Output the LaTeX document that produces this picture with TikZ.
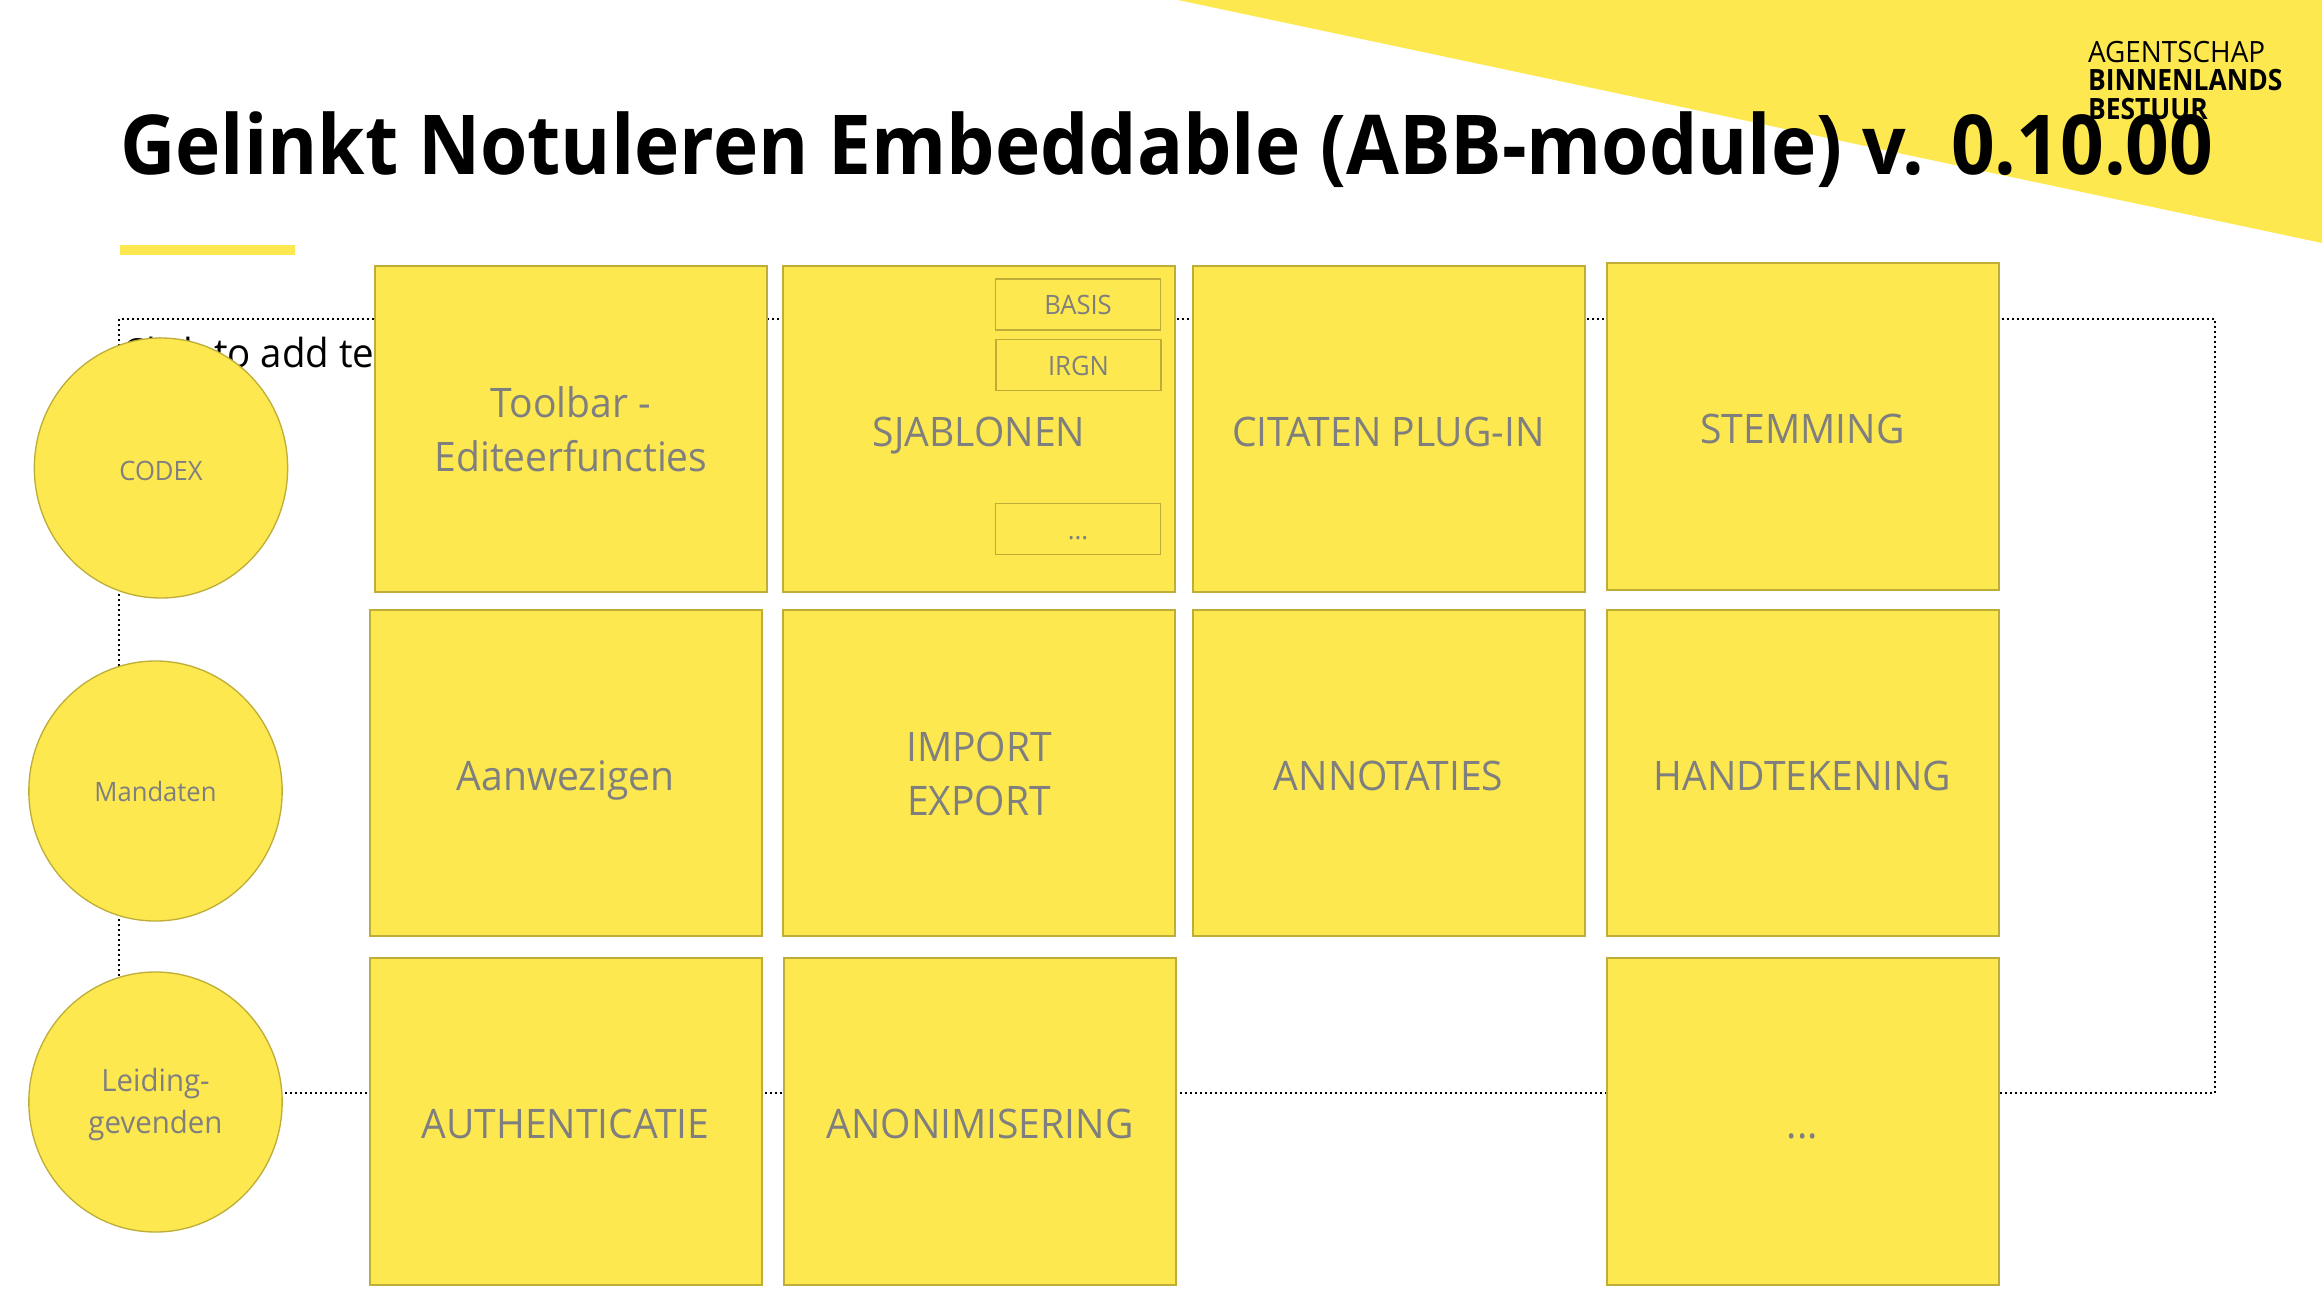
\documentclass[tikz,border=0pt]{standalone}
\usepackage{fontspec}
\setmainfont[FakeStretch=0.96]{Open Sans}
\newfontfamily\titlefont[FakeStretch=0.926]{Open Sans}
\newfontfamily\logofont[FakeStretch=0.95,BoldFeatures={FakeStretch=0.9}]{Open Sans}
\usetikzlibrary{shapes.geometric}
\definecolor{abbyellow}{HTML}{FDE84F}
\definecolor{abbline}{HTML}{BEAE38}
\definecolor{abbgrey}{HTML}{7F7F7F}

\begin{document}
\begin{tikzpicture}[x=.75pt,y=-.75pt,
  tile/.style={rectangle,draw=abbline,fill=abbyellow,line width=1.5pt,outer sep=0pt,minimum width=294pt,minimum height=245pt,text=abbgrey,align=center,font=\fontsize{30.5}{40.5}\selectfont,text height=26pt,text depth=0pt},
  twoline/.style={text height=64pt},
  tag/.style={rectangle,draw=abbline,line width=1.2pt,outer sep=0pt,minimum width=124pt,minimum height=38pt,text=abbgrey,font=\fontsize{20}{24}\selectfont,text height=15.5pt,text depth=0pt},
  group/.style={ellipse,draw=abbline,fill=abbyellow,line width=1pt,inner sep=0pt,minimum width=190pt,minimum height=195pt,text=abbgrey,align=center,font=\fontsize{20}{30}\selectfont},
  plain/.style={inner sep=0pt,outer sep=0pt,anchor=base west,text=black}]
\useasboundingbox (0,0) rectangle (2322,1304);

\fill[abbyellow] (1178,0) -- (2322,0) -- (2322,243) -- cycle;
\fill[abbyellow] (120,245) rectangle (295,255);
\node[plain,font=\logofont\fontsize{22}{22}\selectfont](agent) at (2088,62){AGENTSCHAP};
\node[plain,font=\logofont\fontsize{22}{22}\selectfont\bfseries](binnen) at (2088,90){BINNENLANDS};
\node[plain,font=\logofont\fontsize{22}{22}\selectfont\bfseries](bestuur) at (2088,119){BESTUUR};
\node[plain,font=\titlefont\fontsize{62}{62}\selectfont\bfseries](title) at (120,174){Gelinkt Notuleren Embeddable (ABB-module) v. 0.10.00};

\draw[line width=1.5pt,dash pattern=on 1.5pt off 2.25pt] (119,319) rectangle (2215,1093);
\node[plain,font=\fontsize{30}{30}\selectfont](hint) at (122,367){Click to add text};

\node[group,text height=18pt,text depth=0pt](g1) at (161,468){CODEX};
\node[group](g2) at (155.5,791){Mandaten};
\node[group,font=\fontsize{23}{31.5}\selectfont,text height=46.5pt,text depth=0pt](g3) at (155.5,1102){Leiding-\\gevenden};

\node[tile,twoline](t1) at (571,429){Toolbar -\\Editeerfuncties};
\node[tile](t2) at (979,429){SJABLONEN};
\node[tile](t3) at (1388.5,429){CITATEN PLUG-IN};
\node[tile](t4) at (1802.5,426.5){STEMMING};

\node[tile](t5) at (565.5,773){Aanwezigen};
\node[tile,twoline](t6) at (979,773){IMPORT\\EXPORT};
\node[tile](t7) at (1388.5,773){ANNOTATIES};
\node[tile](t8) at (1802.5,773){HANDTEKENING};

\node[tile](t9) at (565.5,1121.5){AUTHENTICATIE};
\node[tile](t10) at (980,1121.5){ANONIMISERING};
\node[tile](t11) at (1802.5,1121.5){...};

\node[tag](s1) at (1078,304.5){BASIS};
\node[tag](s2) at (1078.5,365){IRGN};
\node[tag](s3) at (1078,529){...};
\end{tikzpicture}
\end{document}
